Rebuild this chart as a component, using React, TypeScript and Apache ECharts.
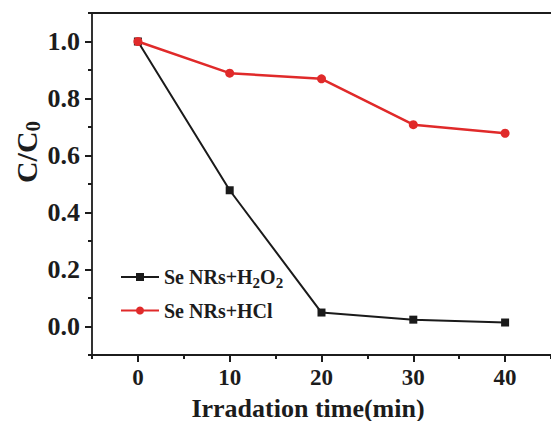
import React, { useEffect, useRef } from "react";
import * as echarts from "echarts";

const times = [0, 10, 20, 30, 40];
const h2o2Values = [1.0, 0.478, 0.049, 0.024, 0.014];
const hclValues = [1.0, 0.889, 0.869, 0.708, 0.678];
const seriesNames = ["Se NRs+H2O2", "Se NRs+HCl"];

const FONT = "'Liberation Serif', 'Times New Roman', serif";
const INK = "#1c1c1c";

export default function App() {
  const ref = useRef<HTMLDivElement>(null);
  useEffect(() => {
    if (!ref.current) return;
    const chart = echarts.init(ref.current, undefined, { renderer: "svg" });
    const legendRich = {
      n: { fontFamily: FONT, fontWeight: "bold", fontSize: 20, color: INK },
      s: { fontFamily: FONT, fontWeight: "bold", fontSize: 15, color: INK, padding: [12, 0, 0, 0] },
    };
    chart.setOption({
      animation: false,
      backgroundColor: "#ffffff",
      grid: { left: 92, top: 13, width: 459, height: 342 },
      xAxis: [
        {
          type: "value",
          min: -5,
          max: 45,
          position: "bottom",
          splitLine: { show: false },
          axisLine: { show: true, onZero: false, lineStyle: { color: INK, width: 1.8 } },
          axisTick: { show: true, inside: false, length: 7, lineStyle: { color: INK, width: 2 } },
          axisLabel: {
            showMinLabel: false,
            showMaxLabel: false,
            margin: 11,
            fontFamily: FONT,
            fontWeight: "bold",
            fontSize: 23,
            color: INK,
          },
        },
        {
          type: "value",
          min: -5,
          max: 45,
          interval: 10,
          position: "bottom",
          splitLine: { show: false },
          axisLine: { show: false, onZero: false },
          axisTick: { show: true, inside: false, length: 4, lineStyle: { color: INK, width: 2 } },
          axisLabel: { show: false },
        },
        {
          type: "value",
          min: -5,
          max: 45,
          position: "top",
          splitLine: { show: false },
          axisLine: { show: true, onZero: false, lineStyle: { color: INK, width: 1.8 } },
          axisTick: { show: false },
          axisLabel: { show: false },
        },
      ],
      yAxis: [
        {
          type: "value",
          min: -0.1,
          max: 1.1,
          position: "left",
          splitLine: { show: false },
          axisLine: { show: true, onZero: false, lineStyle: { color: INK, width: 1.8 } },
          axisTick: { show: true, inside: false, length: 7, lineStyle: { color: INK, width: 2 } },
          axisLabel: {
            showMinLabel: false,
            showMaxLabel: false,
            margin: 12,
            formatter: (v: number) => v.toFixed(1),
            fontFamily: FONT,
            fontWeight: "bold",
            fontSize: 26,
            color: INK,
          },
        },
        {
          type: "value",
          min: -0.1,
          max: 1.1,
          interval: 0.2,
          position: "left",
          splitLine: { show: false },
          axisLine: { show: false, onZero: false },
          axisTick: { show: true, inside: false, length: 4, lineStyle: { color: INK, width: 2 } },
          axisLabel: { show: false },
        },
      ],
      legend: {
        orient: "vertical",
        left: 115,
        top: 262,
        itemWidth: 38,
        itemHeight: 10,
        itemGap: 10,
        data: seriesNames,
        formatter: (name: string) =>
          name === seriesNames[0]
            ? "{n|Se NRs+H}{s|2}{n|O}{s|2}"
            : "{n|Se NRs+HCl}",
        textStyle: { rich: legendRich, fontFamily: FONT, fontWeight: "bold", fontSize: 20, color: INK },
      },
      series: [
        {
          name: seriesNames[0],
          type: "line",
          xAxisIndex: 0,
          yAxisIndex: 0,
          data: times.map((t, i) => [t, h2o2Values[i]]),
          symbol: "rect",
          symbolSize: 8,
          color: "#1a1a1a",
          lineStyle: { color: "#1a1a1a", width: 2 },
          itemStyle: { color: "#1a1a1a" },
          z: 2,
        },
        {
          name: seriesNames[1],
          type: "line",
          xAxisIndex: 0,
          yAxisIndex: 0,
          data: times.map((t, i) => [t, hclValues[i]]),
          symbol: "circle",
          symbolSize: 9,
          color: "#e02a2a",
          lineStyle: { color: "#e02a2a", width: 2.5 },
          itemStyle: { color: "#e02a2a" },
          z: 3,
        },
      ],
      graphic: [
        {
          type: "text",
          x: 26,
          y: 152,
          rotation: Math.PI / 2,
          style: {
            text: "{a|C/C}{b|0}",
            align: "center",
            verticalAlign: "middle",
            rich: {
              a: { fontFamily: FONT, fontWeight: "bold", fontSize: 30, fill: INK, color: INK },
              b: { fontFamily: FONT, fontWeight: "bold", fontSize: 21, fill: INK, color: INK, padding: [14, 0, 0, 0] },
            },
          },
        },
        {
          type: "text",
          x: 308,
          y: 408,
          style: {
            text: "Irradation time(min)",
            align: "center",
            verticalAlign: "middle",
            fontFamily: FONT,
            fontWeight: "bold",
            fontSize: 26,
            fill: INK,
          },
        },
      ],
    });
    return () => chart.dispose();
  }, []);
  return (
    <div
      ref={ref}
      style={{ position: "absolute", left: 0, top: 0, width: 551, height: 421, overflow: "hidden" }}
    />
  );
}
